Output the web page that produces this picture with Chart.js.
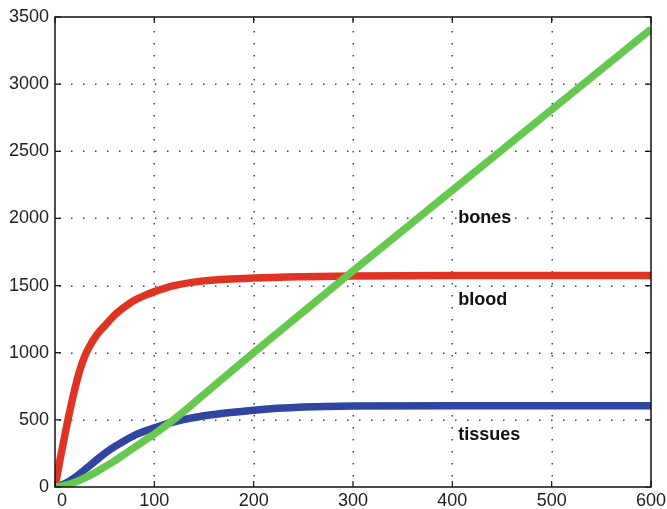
<!DOCTYPE html>
<html>
<head>
<meta charset="utf-8">
<script src="https://cdn.jsdelivr.net/npm/chart.js@4/dist/chart.umd.min.js"></script>
<style>
html,body{margin:0;padding:0;background:#fff;}
#wrap{width:667px;height:509px;position:relative;}
</style>
</head>
<body>
<div id="wrap"><canvas id="c" width="667" height="509"></canvas></div>
<script>
// Data
const bonesX   = [0, 10, 20, 30, 40, 50, 60, 70, 80, 90, 100, 120, 150, 200, 250, 300, 400, 500, 600];
const bonesY   = [0, 12, 35, 68, 105, 150, 195, 245, 295, 345, 395, 505, 690, 1000, 1305, 1610, 2210, 2810, 3410];
const bloodX   = [0, 5, 10, 15, 20, 25, 30, 35, 40, 45, 50, 60, 70, 80, 90, 100, 120, 150, 200, 250, 300, 400, 600];
const bloodY   = [0, 200, 390, 570, 730, 870, 975, 1050, 1110, 1160, 1200, 1280, 1340, 1390, 1425, 1455, 1500, 1535, 1556, 1566, 1571, 1575, 1575];
const tissuesX = [0, 10, 20, 30, 40, 50, 60, 70, 80, 90, 100, 110, 120, 150, 200, 250, 300, 400, 600];
const tissuesY = [0, 25, 70, 130, 190, 250, 300, 345, 385, 415, 440, 465, 485, 530, 572, 595, 603, 605, 605];
const xTicks = [0, 100, 200, 300, 400, 500, 600];
const yTicks = [0, 500, 1000, 1500, 2000, 2500, 3000, 3500];
const labels = [
  {text: 'bones',   x: 406, y: 2000},
  {text: 'blood',   x: 406, y: 1390},
  {text: 'tissues', x: 406, y: 385}
];

const pts = (xs, ys) => xs.map((x, i) => ({x, y: ys[i]}));
const FONT = '"Liberation Sans", Arial, Helvetica, sans-serif';

const boxPlugin = {
  id: 'box',
  beforeDatasetsDraw(chart) {
    const {ctx, chartArea: a, scales: {x, y}} = chart;
    ctx.save();
    ctx.fillStyle = '#444';
    const step = 12;
    xTicks.forEach(v => {
      const px = Math.round(x.getPixelForValue(v));
      if (v === 0 || v === 600) return;
      for (let py = a.top + 2; py < a.bottom; py += step) ctx.fillRect(px - 0.5, py, 1.5, 1.5);
    });
    yTicks.forEach(v => {
      const py = Math.round(y.getPixelForValue(v));
      if (v === 0 || v === 3500) return;
      for (let px = a.left + 4; px < a.right; px += step) ctx.fillRect(px, py - 0.5, 1.5, 1.5);
    });
    ctx.restore();
  },
  afterDatasetsDraw(chart) {
    const {ctx, chartArea: a, scales: {x, y}} = chart;
    ctx.save();
    ctx.strokeStyle = '#111';
    ctx.lineWidth = 1.5;
    ctx.strokeRect(a.left, a.top, a.right - a.left, a.bottom - a.top);
    ctx.lineWidth = 1.2;
    ctx.beginPath();
    const tl = 6;
    xTicks.forEach(v => {
      const px = x.getPixelForValue(v);
      ctx.moveTo(px, a.bottom); ctx.lineTo(px, a.bottom - tl);
      ctx.moveTo(px, a.top); ctx.lineTo(px, a.top + tl);
    });
    yTicks.forEach(v => {
      const py = y.getPixelForValue(v);
      ctx.moveTo(a.left, py); ctx.lineTo(a.left + tl, py);
      ctx.moveTo(a.right, py); ctx.lineTo(a.right - tl, py);
    });
    ctx.stroke();
    // x "0" label, drawn slightly right of the axis as in the reference
    ctx.fillStyle = '#222';
    ctx.font = '18px ' + FONT;
    ctx.textAlign = 'center';
    ctx.textBaseline = 'top';
    ctx.fillText(String(xTicks[0]), x.getPixelForValue(xTicks[0]) + 7, a.bottom + 5);
    // text labels
    ctx.fillStyle = '#111';
    ctx.font = 'bold 18px ' + FONT;
    ctx.textAlign = 'left';
    ctx.textBaseline = 'middle';
    labels.forEach(l => ctx.fillText(l.text, x.getPixelForValue(l.x), y.getPixelForValue(l.y)));
    ctx.restore();
  }
};

new Chart(document.getElementById('c'), {
  type: 'line',
  data: {
    datasets: [
      {label: 'bones', data: pts(bonesX, bonesY), borderColor: '#66c84e', order: 0},
      {label: 'blood', data: pts(bloodX, bloodY), borderColor: '#e03324', order: 1},
      {label: 'tissues', data: pts(tissuesX, tissuesY), borderColor: '#2f45a0', order: 2}
    ].map(d => Object.assign(d, {borderWidth: 7.5, pointRadius: 0, fill: false, cubicInterpolationMode: 'monotone', borderCapStyle: 'butt', borderJoinStyle: 'round'}))
  },
  options: {
    responsive: false,
    animation: false,
    events: [],
    layout: {padding: {top: 17, right: 16, left: 0, bottom: 0}},
    plugins: {legend: {display: false}, tooltip: {enabled: false}},
    scales: {
      x: {
        type: 'linear', min: 0, max: 600,
        afterBuildTicks: s => { s.ticks = xTicks.map(v => ({value: v})); },
        afterFit: s => { s.height = 22; s.paddingRight = 0; s.paddingLeft = 0; },
        grid: {display: false, drawTicks: false},
        border: {display: false},
        ticks: {font: {family: FONT, size: 18}, color: '#222', padding: 3, maxRotation: 0, autoSkip: false,
                callback: v => (v === xTicks[0] ? '' : String(v))}
      },
      y: {
        type: 'linear', min: 0, max: 3500,
        afterBuildTicks: s => { s.ticks = yTicks.map(v => ({value: v})); },
        afterFit: s => { s.width = 55; },
        grid: {display: false, drawTicks: false},
        border: {display: false},
        ticks: {font: {family: FONT, size: 18}, color: '#222', padding: 6, callback: v => String(v)}
      }
    }
  },
  plugins: [boxPlugin]
});
</script>
</body>
</html>
